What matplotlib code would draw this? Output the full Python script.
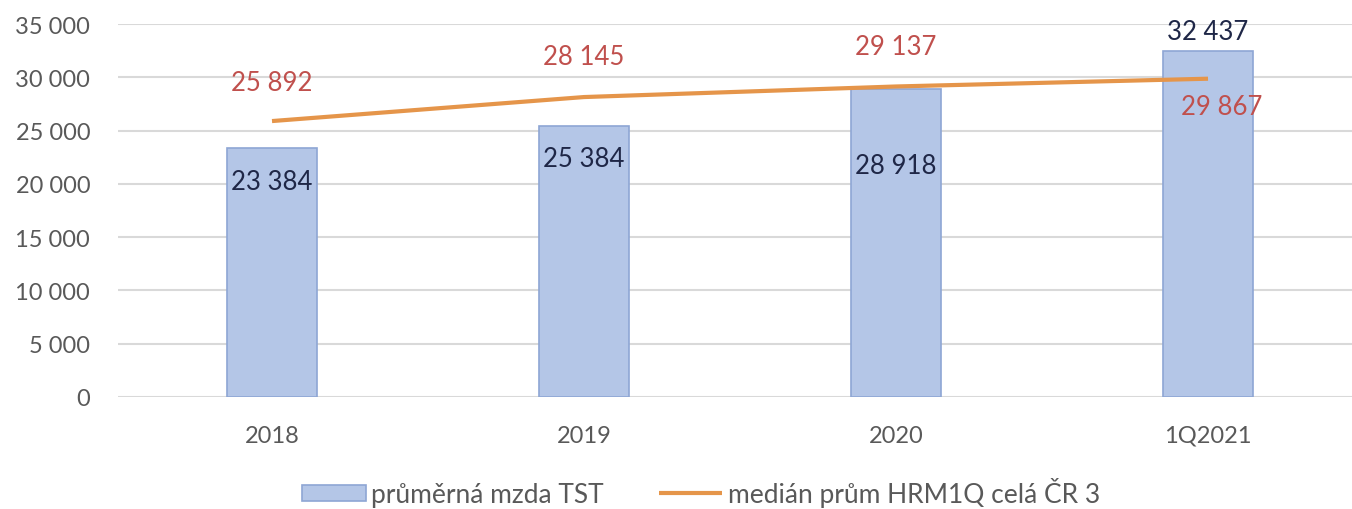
import matplotlib

matplotlib.use("Agg")
import matplotlib.pyplot as plt
from matplotlib.ticker import FuncFormatter

plt.rcParams["font.family"] = ["Lato", "DejaVu Sans"]

# data
categories = ["2018", "2019", "2020", "1Q2021"]
avg_wage_tst = [23384, 25384, 28918, 32437]
median_hrm = [25892, 28145, 29137, 29867]
bar_name = "průměrná mzda TST"
line_name = "medián prům HRM1Q celá ČR 3"

# label offsets in points (layout only)
bar_label_offsets = [(0, -24), (0, -23), (0, -55), (0, 14)]
line_label_offsets = [(0, 28), (0, 29), (0, 29), (10, -20)]

BAR_FILL = "#b4c6e7"
BAR_EDGE = "#8ea6d4"
LINE_COL = "#e5954a"
BAR_TXT = "#1f2747"
LINE_TXT = "#c0504d"
AXIS_TXT = "#595959"
GRID = "#d9d9d9"

fig = plt.figure(figsize=(13.52, 5.10), dpi=100)
ax = fig.add_axes([118 / 1352, 1 - 398 / 510, 1 - 118 / 1352, (398 - 25) / 510])

x = list(range(len(categories)))
bars = ax.bar(x, avg_wage_tst, width=0.29, color=BAR_FILL, edgecolor=BAR_EDGE,
              linewidth=1.2, label=bar_name, zorder=2)
line, = ax.plot(x, median_hrm, color=LINE_COL, linewidth=3, label=line_name,
                zorder=3, solid_capstyle="butt")


def fmt(v):
    return f"{int(v):,}".replace(",", " ")


for xi, v, off in zip(x, avg_wage_tst, bar_label_offsets):
    ax.annotate(fmt(v), (xi, v), xytext=off, textcoords="offset points",
                ha="center", va="center", fontsize=18.5, color=BAR_TXT, zorder=4)
for xi, v, off in zip(x, median_hrm, line_label_offsets):
    ax.annotate(fmt(v), (xi, v), xytext=off, textcoords="offset points",
                ha="center", va="center", fontsize=18.5, color=LINE_TXT, zorder=4)

ax.set_ylim(0, 35000)
ax.set_xlim(-0.4936, 3.4615)
ax.set_yticks(range(0, 35001, 5000))
ax.yaxis.set_major_formatter(FuncFormatter(lambda v, p: fmt(v)))
ax.set_xticks(x)
ax.set_xticklabels(categories)
ax.tick_params(axis="both", length=0, labelsize=17, labelcolor=AXIS_TXT)
ax.tick_params(axis="y", pad=20)
ax.tick_params(axis="x", pad=20)
ax.grid(axis="y", color=GRID, linewidth=1.5, zorder=0)
ax.set_axisbelow(True)
for s in ax.spines.values():
    s.set_visible(False)

fig.legend([bars, line], [bar_name, line_name], loc="center",
           bbox_to_anchor=(701 / 1352, 1 - 493 / 510), ncol=2,
           frameon=False, fontsize=19, labelcolor=AXIS_TXT, handlelength=2.4,
           handleheight=0.55, handletextpad=0.2, columnspacing=2.1)

fig.savefig("out.png", dpi=100)
